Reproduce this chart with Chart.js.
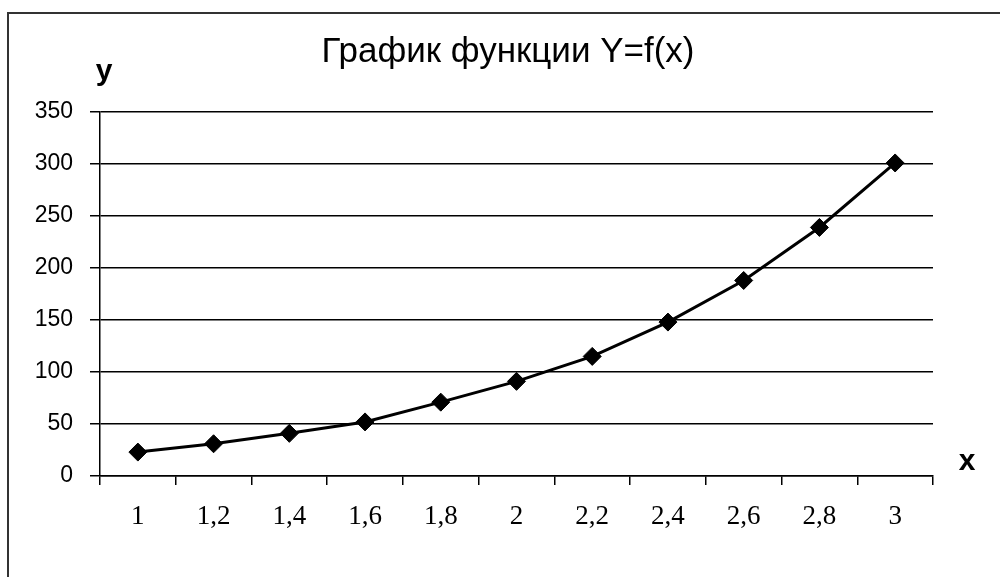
<!DOCTYPE html>
<html><head><meta charset="utf-8">
<script src="https://cdn.jsdelivr.net/npm/chart.js@4/dist/chart.umd.min.js"></script>
<style>html,body{margin:0;padding:0;background:#fff;overflow:hidden}#wrap{width:1000px;height:577px;position:relative}</style>
</head><body><div id="wrap"><canvas id="c"></canvas></div>
<script>
const categories = ['1','1,2','1,4','1,6','1,8','2','2,2','2,4','2,6','2,8','3'];
const values = [23, 31, 41, 52, 71, 91, 115, 148, 188, 239, 301];
const yTickValues = [0, 50, 100, 150, 200, 250, 300, 350];
const titleText = 'График функции Y=f(x)';
const yAxisLabel = 'y';
const xAxisLabel = 'x';

const frameAndLabels = {
  id: 'frameAndLabels',
  beforeDraw(chart) {
    const ctx = chart.ctx;
    ctx.save();
    ctx.fillStyle = '#fff';
    ctx.fillRect(0, 0, chart.width, chart.height);
    ctx.strokeStyle = '#333';
    ctx.lineWidth = 2;
    ctx.strokeRect(8, 13, chart.width + 20, chart.height + 20);
    ctx.restore();
  },
  afterDraw(chart) {
    const ctx = chart.ctx;
    ctx.save();
    ctx.fillStyle = '#000';
    ctx.textBaseline = 'alphabetic';
    ctx.textAlign = 'center';
    ctx.font = '35px "Liberation Sans"';
    ctx.fillText(titleText, 508, 62);
    ctx.font = 'bold 30px "Liberation Sans"';
    ctx.fillText(yAxisLabel, 104, 80);
    ctx.fillText(xAxisLabel, 967, 470);
    ctx.restore();
  }
};

new Chart(document.getElementById('c'), {
  type: 'line',
  data: {
    labels: categories,
    datasets: [{
      data: values,
      borderColor: '#000',
      backgroundColor: '#000',
      borderWidth: 3,
      pointStyle: 'rectRot',
      pointRadius: 9,
      pointHoverRadius: 9,
      pointBackgroundColor: '#000',
      pointBorderColor: '#000',
      pointBorderWidth: 1,
      tension: 0,
      fill: false
    }]
  },
  options: {
    responsive: true,
    maintainAspectRatio: false,
    animation: false,
    events: [],
    layout: { padding: { left: 0, right: 67, top: 112, bottom: 0 } },
    plugins: { legend: { display: false }, title: { display: false }, tooltip: { enabled: false } },
    scales: {
      x: {
        type: 'category',
        offset: true,
        grid: { display: true, offset: true, drawOnChartArea: false, drawTicks: true, tickLength: 9, color: '#000', lineWidth: 1.5 },
        border: { display: true, color: '#000', width: 1.5 },
        ticks: { color: '#000', font: { family: '"Liberation Serif"', size: 27 }, padding: 16, maxRotation: 0, autoSkip: false },
        afterFit(s) { s.height = 101; }
      },
      y: {
        min: 0, max: 350,
        afterBuildTicks(s) { s.ticks = yTickValues.map(v => ({ value: v })); },
        grid: { display: true, drawOnChartArea: true, drawTicks: true, tickLength: 10, color: '#000', lineWidth: 1.5 },
        border: { display: true, color: '#000', width: 1.5 },
        ticks: { color: '#000', font: { family: '"Liberation Sans"', size: 23 }, padding: 17 },
        afterFit(s) { s.width = 100; }
      }
    }
  },
  plugins: [frameAndLabels]
});
</script></body></html>
